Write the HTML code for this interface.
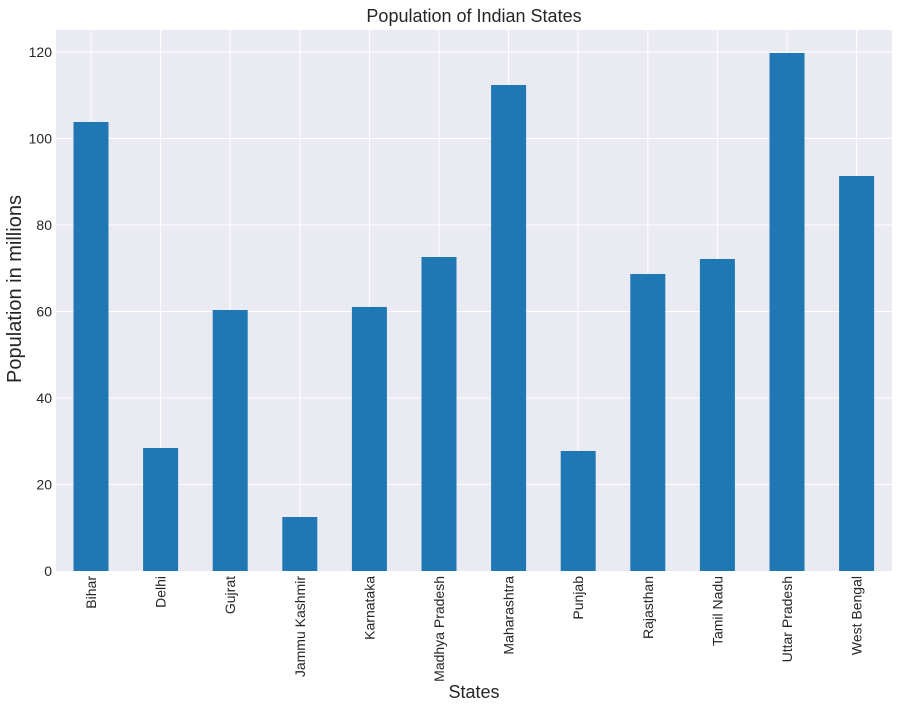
<!DOCTYPE html>
<html><head><style>body{margin:0;background:#fff}svg{display:block}</style></head><body>
<svg width="900" height="709" xmlns="http://www.w3.org/2000/svg" font-family="Liberation Sans, Arial, sans-serif" fill="#262626">
<rect x="56" y="30" width="836" height="541" fill="#eaeaf2"/>
<g stroke="#fff" stroke-width="1">
<line x1="56" x2="892" y1="484.5" y2="484.5"/><line x1="56" x2="892" y1="398" y2="398"/><line x1="56" x2="892" y1="311.5" y2="311.5"/><line x1="56" x2="892" y1="225" y2="225"/><line x1="56" x2="892" y1="138.5" y2="138.5"/><line x1="56" x2="892" y1="52" y2="52"/>
<line x1="91" x2="91" y1="30" y2="571"/><line x1="160.6" x2="160.6" y1="30" y2="571"/><line x1="230.2" x2="230.2" y1="30" y2="571"/><line x1="299.8" x2="299.8" y1="30" y2="571"/><line x1="369.4" x2="369.4" y1="30" y2="571"/><line x1="439" x2="439" y1="30" y2="571"/><line x1="508.6" x2="508.6" y1="30" y2="571"/><line x1="578.2" x2="578.2" y1="30" y2="571"/><line x1="647.8" x2="647.8" y1="30" y2="571"/><line x1="717.4" x2="717.4" y1="30" y2="571"/><line x1="787" x2="787" y1="30" y2="571"/><line x1="856.6" x2="856.6" y1="30" y2="571"/>
</g>
<g fill="#1f77b4">
<rect x="73.5" y="122" width="35" height="449"/>
<rect x="143.1" y="448" width="35" height="123"/>
<rect x="212.7" y="310" width="35" height="261"/>
<rect x="282.3" y="517" width="35" height="54"/>
<rect x="351.9" y="307" width="35" height="264"/>
<rect x="421.5" y="257" width="35" height="314"/>
<rect x="491.1" y="85" width="35" height="486"/>
<rect x="560.7" y="451" width="35" height="120"/>
<rect x="630.3" y="274" width="35" height="297"/>
<rect x="699.9" y="259" width="35" height="312"/>
<rect x="769.5" y="53" width="35" height="518"/>
<rect x="839.1" y="176" width="35" height="395"/>
</g>
<g font-size="14" text-anchor="end">
<text x="52" y="576">0</text><text x="52" y="489.5">20</text><text x="52" y="403">40</text><text x="52" y="316.5">60</text><text x="52" y="230">80</text><text x="52" y="143.5">100</text><text x="52" y="57">120</text>
</g>
<g font-size="14" text-anchor="end">
<text transform="translate(96,576) rotate(-90)">Bihar</text>
<text transform="translate(165.6,576) rotate(-90)">Delhi</text>
<text transform="translate(235.2,576) rotate(-90)">Gujrat</text>
<text transform="translate(304.8,576) rotate(-90)">Jammu Kashmir</text>
<text transform="translate(374.4,576) rotate(-90)">Karnataka</text>
<text transform="translate(444,576) rotate(-90)">Madhya Pradesh</text>
<text transform="translate(513.6,576) rotate(-90)">Maharashtra</text>
<text transform="translate(583.2,576) rotate(-90)">Punjab</text>
<text transform="translate(652.8,576) rotate(-90)">Rajasthan</text>
<text transform="translate(722.4,576) rotate(-90)">Tamil Nadu</text>
<text transform="translate(792,576) rotate(-90)">Uttar Pradesh</text>
<text transform="translate(861.6,576) rotate(-90)">West Bengal</text>
</g>
<text x="474" y="22" font-size="18" text-anchor="middle">Population of Indian States</text>
<text x="474" y="698" font-size="18" text-anchor="middle">States</text>
<text transform="translate(21,289) rotate(-90)" font-size="20" text-anchor="middle">Population in millions</text>
</svg>
</body></html>
